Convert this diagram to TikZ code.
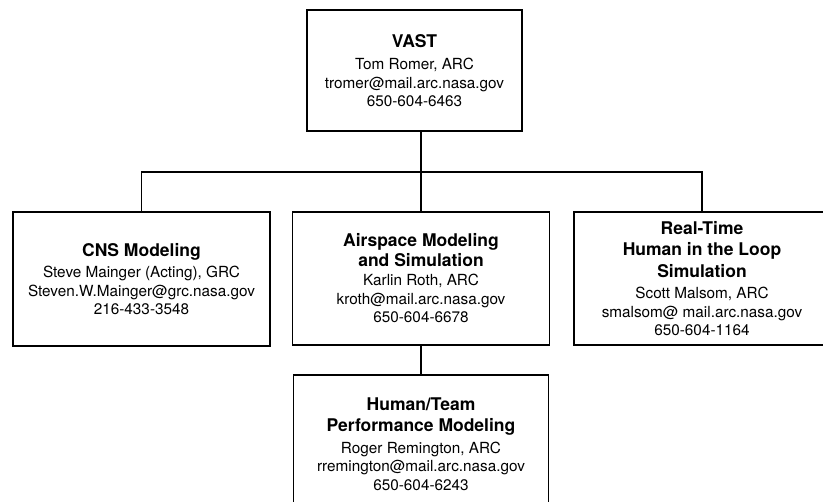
\documentclass[tikz,border=0pt]{standalone}
\usepackage{fontspec}
\setmainfont{TeX Gyre Heros}
\newcommand\ttl[1]{{\fontsize{17.5}{21}\selectfont\bfseries #1}}
\tikzset{
  orgbox/.style={draw, line width=1.2pt, align=center, inner sep=0pt,
    font=\fontsize{15.3}{18.5}\selectfont},
  conn/.style={draw, line width=1.2pt}
}
\begin{document}
\begin{tikzpicture}[x=1pt, y=-1pt]
\useasboundingbox (0,0) rectangle (823,502);
\clip (0,0) rectangle (823,502);

\node[orgbox, minimum width=215pt, minimum height=121pt] (vast) at (414.5,70.5)
  {\ttl{VAST}\\[4pt] Tom Romer, ARC\\ tromer@mail.arc.nasa.gov\\ 650-604-6463};

\node[orgbox, minimum width=257pt, minimum height=134pt] (cns) at (141.5,279)
  {\ttl{CNS Modeling}\\[3pt] Steve Mainger (Acting), GRC\\ Steven.W.Mainger@grc.nasa.gov\\ 216-433-3548};

\node[orgbox, minimum width=257pt, minimum height=133pt] (air) at (421,278.5)
  {\ttl{Airspace Modeling}\\[1pt] \ttl{and Simulation}\\[1pt] Karlin Roth, ARC\\ kroth@mail.arc.nasa.gov\\ 650-604-6678};

\node[orgbox, minimum width=256pt, minimum height=133pt] (rt) at (702,278.5)
  {\ttl{Real-Time}\\[3pt] \ttl{Human in the Loop}\\[3pt] \ttl{Simulation}\\[3pt] Scott Malsom, ARC\\ smalsom@ mail.arc.nasa.gov\\ 650-604-1164};

\node[orgbox, minimum width=255pt, minimum height=138pt] (hum) at (421,444)
  {\ttl{Human/Team}\\[3pt] \ttl{Performance Modeling}\\[3pt] Roger Remington, ARC\\ rremington@mail.arc.nasa.gov\\ 650-604-6243};

\coordinate (bus) at (421,172);
\draw[conn] (vast.south -| bus) -- (bus);
\draw[conn] (cns.north) |- (bus) -| (rt.north);
\draw[conn] (bus) -- (air.north);
\draw[conn] (air.south) -- (hum.north);
\end{tikzpicture}
\end{document}
